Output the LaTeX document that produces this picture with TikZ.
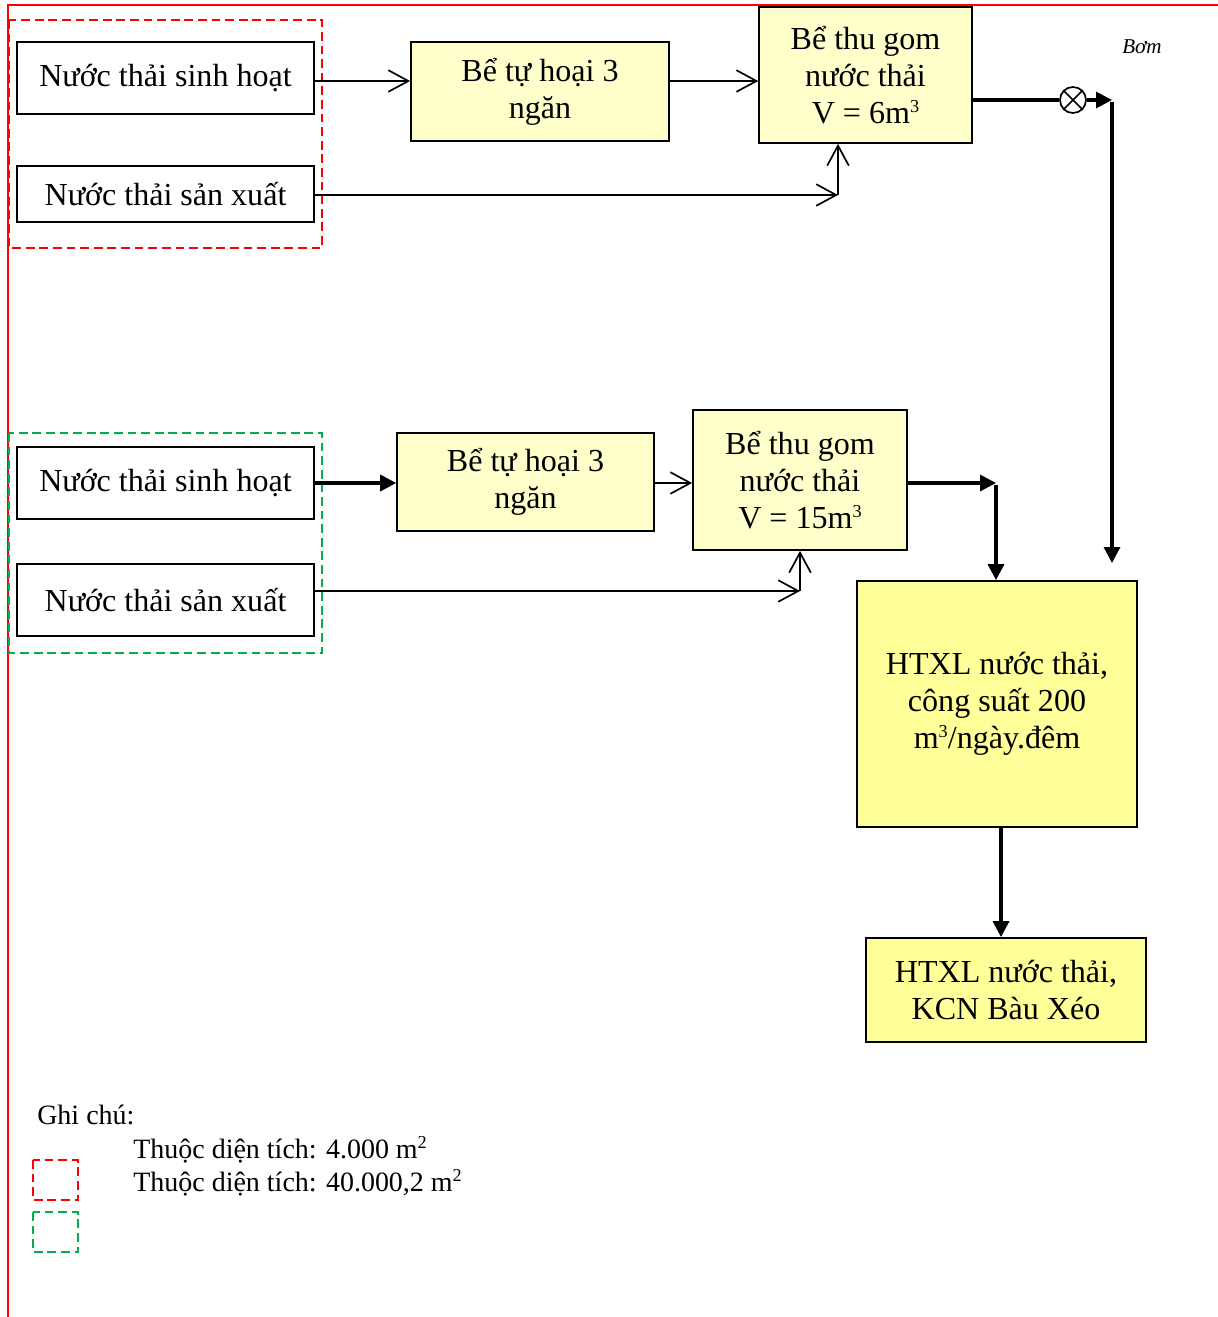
\documentclass[tikz,border=0pt]{standalone}
\usepackage{fontspec}
\setmainfont{Liberation Serif}
\usepackage{tikz}
\usetikzlibrary{arrows.meta,positioning,calc}
\definecolor{framered}{RGB}{255,0,0}
\definecolor{zonegreen}{RGB}{0,176,80}
\definecolor{paleyellow}{RGB}{255,255,204}
\definecolor{plantyellow}{RGB}{255,255,153}
\tikzset{
  base/.style={font=\fontsize{22.8}{26.3}\selectfont, align=center, inner sep=0pt, text=black},
  box/.style={base, rectangle, draw=black, fill=white, line width=1.2pt},
  tank/.style={box, fill=paleyellow},
  plant/.style={box, fill=plantyellow},
  pump/.style={circle, draw=black, line width=1.2pt, fill=white, minimum size=0.65cm, inner sep=0pt},
  arr/.style={-{Straight Barb[length=5mm,width=5.4mm,line width=1.2pt]}, line width=1.2pt, draw=black},
  arrb/.style={-{Triangle[length=4mm,width=4mm]}, line width=2.4pt, draw=black},
  frame/.style={draw=framered, line width=1.4pt},
  zone/.style={draw=#1, line width=1.2pt, dash pattern=on 2.2mm off 1.2mm},
  note/.style={font=\fontsize{19.9}{23.4}\selectfont, anchor=west, inner sep=0pt},
}
% small raised exponent
\newcommand{\sq}[1]{\raisebox{0.75ex}{\fontsize{13}{13}\selectfont #1}}
\begin{document}
\begin{tikzpicture}[x=0.025cm, y=-0.025cm]
  \useasboundingbox (0,0) rectangle (1218,1317);
  % page frame
  \draw[frame] (8,1317) -- (8,5) -- (1218,5);
  % zones
  \draw[zone=framered] (9,20) rectangle (322,248);
  \draw[zone=zonegreen] (9,433) rectangle (322,653);
  % upper line
  \node[box, minimum width=7.42cm, minimum height=1.8cm] (srcA1) at (165.5,78) {Nước thải sinh hoạt};
  \node[box, minimum width=7.42cm, minimum height=1.4cm] (srcA2) at (165.5,194) {Nước thải sản xuất};
  \node[tank, minimum width=6.45cm, minimum height=2.48cm] (tankA) at (540,91.5) {Bể tự hoại 3\\ngăn};
  \node[tank, minimum width=5.32cm, minimum height=3.4cm] (sumpA) at (865.5,75) {Bể thu gom\\nước thải\\V = 6m\sq{3}};
  % lower line
  \node[box, minimum width=7.42cm, minimum height=1.8cm] (srcB1) at (165.5,483) {Nước thải sinh hoạt};
  \node[box, minimum width=7.42cm, minimum height=1.8cm] (srcB2) at (165.5,600) {Nước thải sản xuất};
  \node[tank, minimum width=6.42cm, minimum height=2.45cm] (tankB) at (525.5,482) {Bể tự hoại 3\\ngăn};
  \node[tank, minimum width=5.35cm, minimum height=3.5cm] (sumpB) at (800,480) {Bể thu gom\\nước thải\\V = 15m\sq{3}};
  % treatment
  \node[plant, minimum width=7cm, minimum height=6.15cm] (plant) at (997,704) {HTXL nước thải,\\công suất 200\\m\sq{3}/ngày.đêm};
  \node[plant, minimum width=7cm, minimum height=2.6cm] (kcn) at (1006,990) {HTXL nước thải,\\KCN Bàu Xéo};
  % pump
  \node[pump] (pump) at (1073,100) {};
  \draw[line width=1.2pt] (pump.north west) -- (pump.south east) (pump.north east) -- (pump.south west);
  \node[font=\fontsize{15}{18}\selectfont\itshape, inner sep=0pt] (pumplbl) at (1142,47) {Bơm};
  \coordinate (jA) at (838,195);
  \coordinate (jB) at (800,591);
  \coordinate (jP) at (1112,100);
  \coordinate (jF) at (996,483);
  % connectors, upper
  \draw[arr] (srcA1.east) ++(0,3) -- ($(srcA1.east -| tankA.west)+(0,3)$);
  \draw[arr] ($(srcA1.east -| tankA.east)+(0,3)$) -- ($(srcA1.east -| sumpA.west)+(0,3)$);
  \draw[arr] (srcA2.east |- jA) -- (jA);
  \draw[arr] (jA) -- (jA |- sumpA.south);
  \draw[line width=2.4pt] (pump.west -| sumpA.east) -- (pump.west);
  \draw[arrb] (pump.east) -- (jP);
  \draw[arrb] ([yshift=-1.2pt]jP) -- (1112,563);
  % connectors, lower
  \draw[arrb] (srcB1.east) -- (srcB1.east -| tankB.west);
  \draw[arr] (tankB.east |- srcB1.east) -- (srcB1.east -| sumpB.west);
  \draw[arr] (srcB2.east |- jB) -- (jB);
  \draw[arr] (jB) -- (jB |- sumpB.south);
  \draw[arrb] (sumpB.east |- jF) -- (jF);
  \draw[arrb] ([yshift=-1.2pt]jF) -- (jF |- plant.north);
  \draw[arrb] ($(plant.south)+(4,0)$) -- ($(plant.south |- kcn.north)+(4,0)$);
  % legend
  \node[note] (notehead) at (37,1115) {Ghi chú:};
  \node[note] (noteA) at (133,1150) {Thuộc diện tích: 4.000 m\sq{2}};
  \node[note] (noteB) at (133,1183) {Thuộc diện tích: 40.000,2 m\sq{2}};
  \draw[zone=framered] (33,1160) rectangle (78,1200);
  \draw[zone=zonegreen] (33,1212) rectangle (78,1252);
\end{tikzpicture}
\end{document}
